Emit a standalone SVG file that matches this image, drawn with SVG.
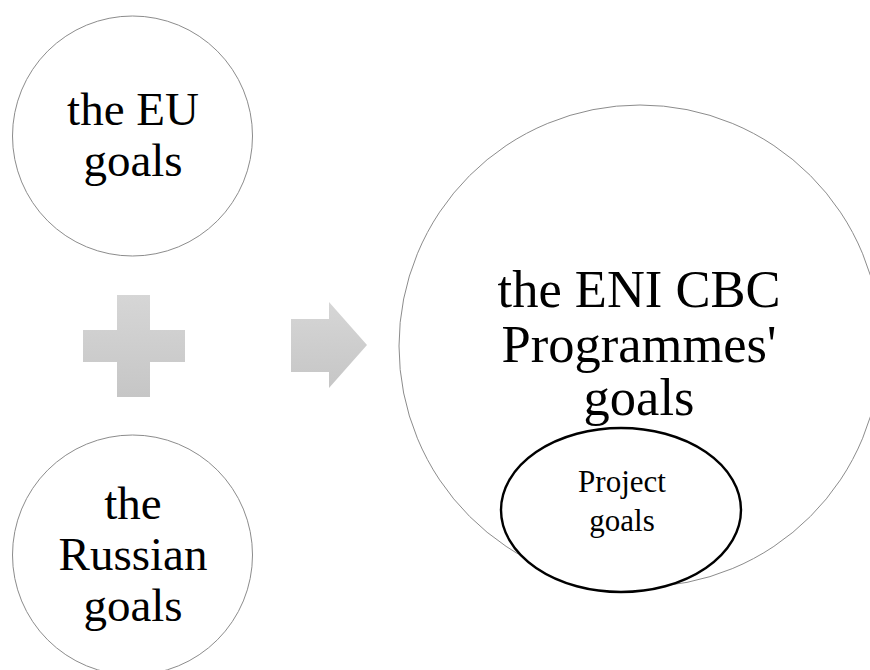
<svg xmlns="http://www.w3.org/2000/svg" width="870" height="670" viewBox="0 0 870 670">
  <defs>
    <linearGradient id="greyFill" x1="0" y1="0" x2="0" y2="1">
      <stop offset="0" stop-color="#d6d6d6"/>
      <stop offset="1" stop-color="#c6c6c6"/>
    </linearGradient>
    <style>
      .circle { fill: #ffffff; stroke: #8c8c8c; stroke-width: 1; }
      .oval { fill: #ffffff; stroke: #000000; stroke-width: 2.4; }
      .label { font-family: "Liberation Serif", "Times New Roman", serif; fill: #000000; text-anchor: middle; }
      .big { font-size: 52.5px; }
      .mid { font-size: 47px; }
      .small { font-size: 31px; }
      .op { fill: url(#greyFill); }
    </style>
  </defs>

  <rect width="870" height="670" fill="#ffffff"/>

  <!-- input: EU goals -->
  <g id="eu-goals">
    <circle class="circle" cx="132.5" cy="136" r="120"/>
    <text class="label mid" x="133" y="125">the EU</text>
    <text class="label mid" x="133" y="176">goals</text>
  </g>

  <!-- input: Russian goals -->
  <g id="russian-goals">
    <circle class="circle" cx="132.5" cy="555" r="120"/>
    <text class="label mid" x="133" y="519">the</text>
    <text class="label mid" x="133" y="570">Russian</text>
    <text class="label mid" x="133" y="621">goals</text>
  </g>

  <!-- operators -->
  <g id="connectors">
    <path id="plus" class="op" d="M117,295 H150 V330 H185 V362 H150 V397 H117 V362 H83 V330 H117 Z"/>
    <path id="equals-arrow" class="op" d="M291,319 H329 V302 L367,345 L329,388 V372 H291 Z"/>
  </g>

  <!-- result: programme goals -->
  <g id="programme-goals">
    <circle class="circle" cx="640" cy="346" r="241"/>
    <text class="label big" x="639" y="307">the ENI CBC</text>
    <text class="label big" x="639" y="362">Programmes'</text>
    <text class="label big" x="639" y="415">goals</text>
  </g>

  <!-- nested: project goals -->
  <g id="project-goals">
    <ellipse class="oval" cx="621" cy="510" rx="120" ry="82"/>
    <text class="label small" x="622" y="492">Project</text>
    <text class="label small" x="622" y="531">goals</text>
  </g>
</svg>
